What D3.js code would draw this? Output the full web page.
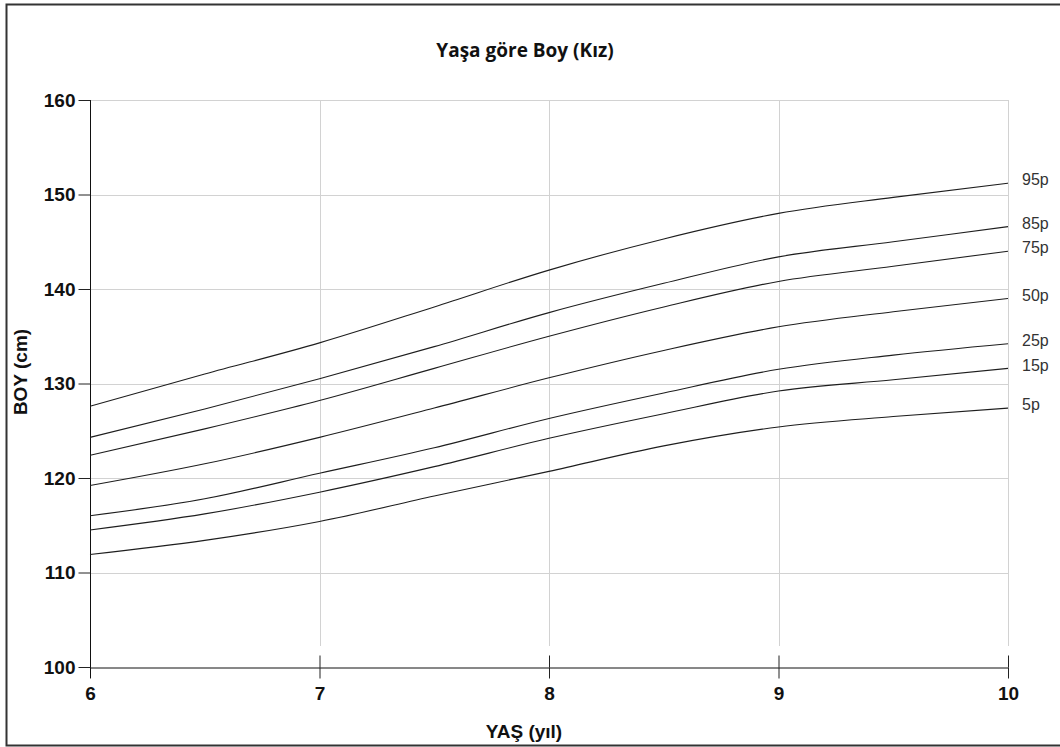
<!DOCTYPE html>
<html>
<head>
<meta charset="utf-8">
<script src="https://cdn.jsdelivr.net/npm/d3@7"></script>
<style>
    body { margin: 0; background: #ffffff; }
    svg { display: block; }
    .tick text { font-family: "Liberation Sans", Arial, sans-serif; font-weight: bold; font-size: 19px; fill: #111; }
</style>
</head>
<body>
<div id="chart"></div>
<script>
// Data: height (cm) by age (year), girls
var ages = [6, 6.5, 7, 7.5, 8, 8.5, 9, 9.5, 10];
var percentileNames = ["95p", "85p", "75p", "50p", "25p", "15p", "5p"];
var p95 = [127.6, 131.0, 134.3, 138.1, 142.0, 145.3, 148.0, 149.7, 151.2];
var p85 = [124.3, 127.3, 130.5, 133.9, 137.5, 140.6, 143.4, 145.0, 146.6];
var p75 = [122.4, 125.2, 128.2, 131.6, 135.0, 138.1, 140.8, 142.4, 144.0];
var p50 = [119.2, 121.5, 124.3, 127.4, 130.6, 133.5, 136.0, 137.6, 139.0];
var p25 = [116.0, 117.8, 120.5, 123.2, 126.3, 129.0, 131.5, 133.0, 134.2];
var p15 = [114.5, 116.2, 118.5, 121.2, 124.2, 126.8, 129.2, 130.4, 131.6];
var p5  = [111.9, 113.4, 115.4, 118.1, 120.7, 123.4, 125.4, 126.5, 127.4];
var xTicks = [6, 7, 8, 9, 10];
var yTicks = [100, 110, 120, 130, 140, 150, 160];

var seriesValues = [p95, p85, p75, p50, p25, p15, p5];

var width = 1060, height = 747;
var margin = {top: 100, left: 90, right: 52, bottom: 80};

var svg = d3.select("#chart")
    .append("svg")
    .attr("width", width)
    .attr("height", height);

// outer frame (right side runs off the picture)
svg.append("rect")
    .attr("x", 6.5)
    .attr("y", 4.5)
    .attr("width", width + 20)
    .attr("height", 741)
    .attr("fill", "none")
    .attr("stroke", "#333")
    .attr("stroke-width", 2);

var x = d3.scaleLinear()
    .domain([6, 10])
    .range([margin.left, width - margin.right]);

var y = d3.scaleLinear()
    .domain([100, 160])
    .range([height - margin.bottom, margin.top]);

// grid
svg.append("g").selectAll("line.hgrid")
    .data(yTicks.filter(function (d) { return d > 100; }))
    .join("line")
    .attr("x1", x(6))
    .attr("x2", x(10))
    .attr("y1", function (d) { return Math.round(y(d)) + 0.5; })
    .attr("y2", function (d) { return Math.round(y(d)) + 0.5; })
    .attr("stroke", "#d2d2d2");

svg.append("g").selectAll("line.vgrid")
    .data(xTicks.filter(function (d) { return d > 6; }))
    .join("line")
    .attr("x1", function (d) { return Math.round(x(d)) + 0.5; })
    .attr("x2", function (d) { return Math.round(x(d)) + 0.5; })
    .attr("y1", y(160))
    .attr("y2", y(100) - 21)
    .attr("stroke", "#d2d2d2");

// axes
var xAxis = svg.append("g")
    .attr("transform", "translate(0," + (Math.round(y(100)) + 0.5) + ")")
    .call(d3.axisBottom(x).tickValues(xTicks).tickSizeInner(11).tickSizeOuter(0).tickPadding(8).tickFormat(d3.format("d")));
xAxis.select(".domain").attr("stroke", "#111");
xAxis.selectAll(".tick line").attr("stroke", "#222");
xAxis.selectAll(".tick")
    .filter(function (d) { return d > 6; })
    .append("line")
    .attr("y1", 0)
    .attr("y2", -12)
    .attr("stroke", "#222");

var yAxis = svg.append("g")
    .attr("transform", "translate(" + (Math.round(x(6)) + 0.5) + ",0)")
    .call(d3.axisLeft(y).tickValues(yTicks).tickSizeInner(12).tickSizeOuter(0).tickPadding(3).tickFormat(d3.format("d")));
yAxis.select(".domain").attr("stroke", "#111")
    .attr("d", "M0," + y(160) + "V" + (y(100) + 11));
yAxis.selectAll(".tick line").attr("stroke", "#222");

// percentile lines
var line = d3.line()
    .x(function (d) { return x(d[0]); })
    .y(function (d) { return y(d[1]); })
    .curve(d3.curveMonotoneX);

svg.append("g").selectAll("path")
    .data(seriesValues)
    .join("path")
    .attr("d", function (vals) {
        return line(ages.map(function (a, i) { return [a, vals[i]]; }));
    })
    .attr("fill", "none")
    .attr("stroke", "#1e1e1e")
    .attr("stroke-width", 1.1);

// labels at the right end
svg.append("g").selectAll("text")
    .data(seriesValues)
    .join("text")
    .attr("x", x(10) + 14)
    .attr("y", function (vals) { return y(vals[vals.length - 1]) - 2; })
    .attr("dominant-baseline", "middle")
    .attr("font-family", "Liberation Sans, Arial, sans-serif")
    .attr("font-size", 16)
    .attr("fill", "#333")
    .text(function (vals, i) { return percentileNames[i]; });

// titles
svg.append("text")
    .attr("x", 525)
    .attr("y", 57)
    .attr("text-anchor", "middle")
    .attr("font-family", "Open Sans, Noto Sans, sans-serif")
    .attr("font-weight", "bold")
    .attr("font-size", 19)
    .attr("fill", "#111")
    .text("Yaşa göre Boy (Kız)");

svg.append("text")
    .attr("x", 524)
    .attr("y", 738)
    .attr("text-anchor", "middle")
    .attr("font-family", "Liberation Sans, Arial, sans-serif")
    .attr("font-weight", "bold")
    .attr("font-size", 19)
    .attr("fill", "#111")
    .text("YAŞ (yıl)");

svg.append("text")
    .attr("transform", "translate(27,372) rotate(-90)")
    .attr("text-anchor", "middle")
    .attr("font-family", "Liberation Sans, Arial, sans-serif")
    .attr("font-weight", "bold")
    .attr("font-size", 19)
    .attr("fill", "#111")
    .text("BOY (cm)");
</script>
</body>
</html>
